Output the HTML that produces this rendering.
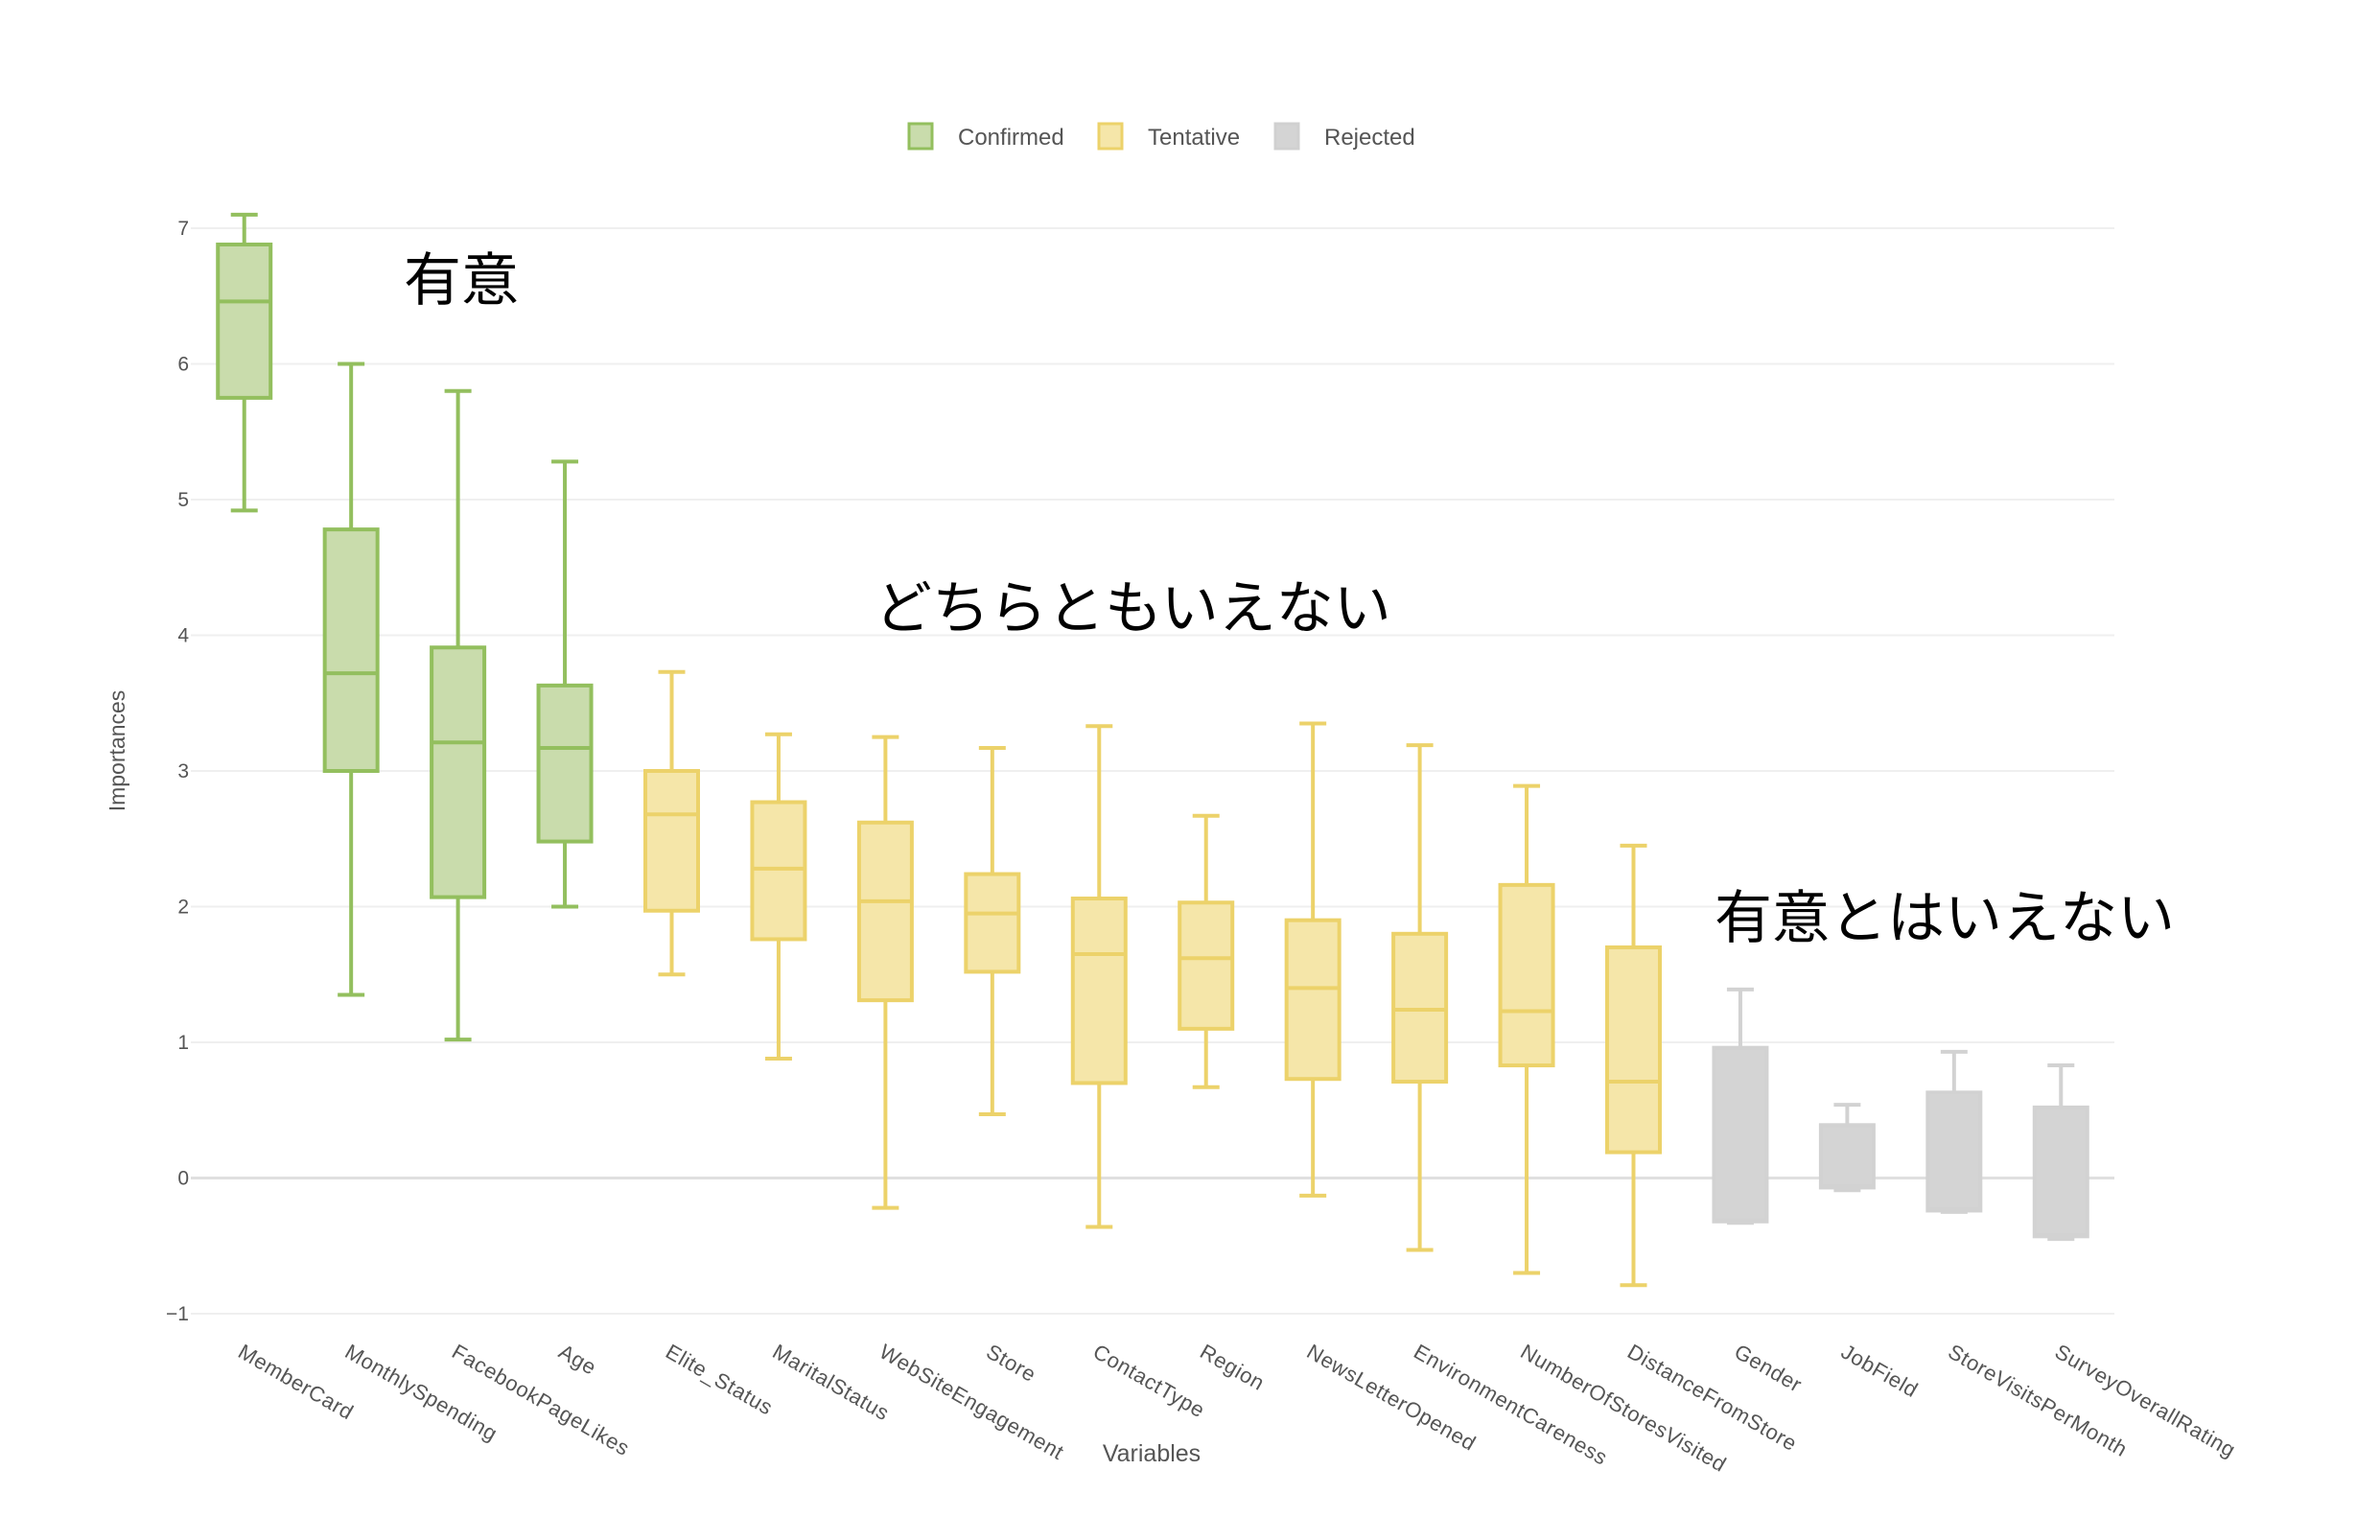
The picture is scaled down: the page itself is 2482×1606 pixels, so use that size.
<!DOCTYPE html>
<html><head><meta charset="utf-8">
<style>
html,body{margin:0;padding:0;background:#fff;}
svg{display:block;font-family:"Liberation Sans","Noto Sans CJK JP",sans-serif;}
</style></head>
<body>
<svg id="chart" width="2482" height="1606" viewBox="0 0 2482 1606">
  <g id="grid"></g>
  <g id="yticks"></g>
  <g id="boxes"></g>
  <g id="xlabels"></g>
  <text x="0" y="0" transform="translate(130,783) rotate(-90)" text-anchor="middle" font-size="23" fill="#555">Importances</text>
  <text x="1201" y="1524" text-anchor="middle" font-size="25" fill="#555">Variables</text>
  <g>
    <g>
      <rect x="948" y="129" width="24" height="26" fill="#c9dcac" stroke="#93bf5e" stroke-width="3"/>
      <text x="999" y="151" font-size="24" fill="#555">Confirmed</text>
    </g>
    <g>
      <rect x="1146" y="129" width="24" height="26" fill="#f5e6a9" stroke="#ecd26a" stroke-width="3"/>
      <text x="1197" y="151" font-size="24" fill="#555">Tentative</text>
    </g>
    <g>
      <rect x="1330" y="129" width="24" height="26" fill="#d4d4d4" stroke="#d0d0d0" stroke-width="3"/>
      <text x="1381" y="151" font-size="24" fill="#555">Rejected</text>
    </g>
  </g>
  <text x="421" y="313" font-size="60" fill="#000">有意</text>
  <text x="912" y="655" font-size="60" fill="#000">どちらともいえない</text>
  <text x="1788" y="978" font-size="60" fill="#000">有意とはいえない</text>
</svg>
<script>
const categories = ["MemberCard","MonthlySpending","FacebookPageLikes","Age","Elite_Status","MaritalStatus","WebSiteEngagement","Store","ContactType","Region","NewsLetterOpened","EnvironmentCareness","NumberOfStoresVisited","DistanceFromStore","Gender","JobField","StoreVisitsPerMonth","SurveyOverallRating"];
const statuses = ["Confirmed","Confirmed","Confirmed","Confirmed","Tentative","Tentative","Tentative","Tentative","Tentative","Tentative","Tentative","Tentative","Tentative","Tentative","Rejected","Rejected","Rejected","Rejected"];
const mins    = [4.92,1.35,1.02,2.00,1.50,0.88,-0.22,0.47,-0.36,0.67,-0.13,-0.53,-0.70,-0.79,-0.33,-0.09,-0.25,-0.45];
const q1s     = [5.75,3.00,2.07,2.48,1.97,1.76,1.31,1.52,0.70,1.10,0.73,0.71,0.83,0.19,-0.32,-0.07,-0.24,-0.43];
const medians = [6.46,3.72,3.21,3.17,2.68,2.28,2.04,1.95,1.65,1.62,1.40,1.24,1.23,0.71,-0.31,-0.06,-0.23,-0.42];
const q3s     = [6.88,4.78,3.91,3.63,3.00,2.77,2.62,2.24,2.06,2.03,1.90,1.80,2.16,1.70,0.96,0.39,0.63,0.52];
const maxs    = [7.10,6.00,5.80,5.28,3.73,3.27,3.25,3.17,3.33,2.67,3.35,3.19,2.89,2.45,1.39,0.54,0.93,0.83];
const yTicks  = [-1,0,1,2,3,4,5,6,7];
const yTickLabels = ["\u22121","0","1","2","3","4","5","6","7"];

const NS="http://www.w3.org/2000/svg";
const X0=199, X1=2205, Y7=238, Yn1=1370;
const band=(X1-X0)/categories.length;
function xScale(i){return X0+band*(i+0.5);}
function yScale(v){return Yn1+(v-(-1))*(Y7-Yn1)/8;}
const colors={Confirmed:{s:"#93bf5e",f:"#c9dcac"},Tentative:{s:"#ecd26a",f:"#f5e6a9"},Rejected:{s:"#d2d2d2",f:"#d4d4d4"}};
function mk(tag,attrs,parent){const e=document.createElementNS(NS,tag);for(const k in attrs)e.setAttribute(k,attrs[k]);parent.appendChild(e);return e;}

const grid=document.getElementById('grid'), yt=document.getElementById('yticks');
yTicks.forEach((t,i)=>{
  const y=yScale(t);
  const l=mk('line',{x1:X0,x2:X1,y1:y,y2:y,stroke:t===0?'#e0e0e0':'#efefef','stroke-width':t===0?3:2},grid);
  
  
  const tx=mk('text',{x:X0-2,y:y+7,'text-anchor':'end','font-size':21,fill:'#555'},yt);
  tx.textContent=yTickLabels[i];
  
  
});

const boxes=document.getElementById('boxes'), xl=document.getElementById('xlabels');
const bw=55, cw=28;
categories.forEach((c,i)=>{
  const cx=xScale(i), col=colors[statuses[i]];
  const g=mk('g',{},boxes);
  
  
  const sw=4;
  mk('line',{x1:cx,x2:cx,y1:yScale(maxs[i]),y2:yScale(q3s[i]),stroke:col.s,'stroke-width':sw},g);
  mk('line',{x1:cx,x2:cx,y1:yScale(q1s[i]),y2:yScale(mins[i]),stroke:col.s,'stroke-width':sw},g);
  mk('line',{x1:cx-cw/2,x2:cx+cw/2,y1:yScale(maxs[i]),y2:yScale(maxs[i]),stroke:col.s,'stroke-width':sw},g);
  mk('line',{x1:cx-cw/2,x2:cx+cw/2,y1:yScale(mins[i]),y2:yScale(mins[i]),stroke:col.s,'stroke-width':sw},g);
  mk('rect',{x:cx-bw/2,y:yScale(q3s[i]),width:bw,height:yScale(q1s[i])-yScale(q3s[i]),fill:col.f,stroke:col.s,'stroke-width':sw},g);
  mk('line',{x1:cx-bw/2,x2:cx+bw/2,y1:yScale(medians[i]),y2:yScale(medians[i]),stroke:col.s,'stroke-width':sw},g);
  const t=mk('text',{x:0,y:0,transform:`translate(${cx-8},${1414}) rotate(30)`,'font-size':22,'letter-spacing':'0.6',fill:'#555'},xl);
  t.textContent=c;
  
  
});
</script>
</body></html>
